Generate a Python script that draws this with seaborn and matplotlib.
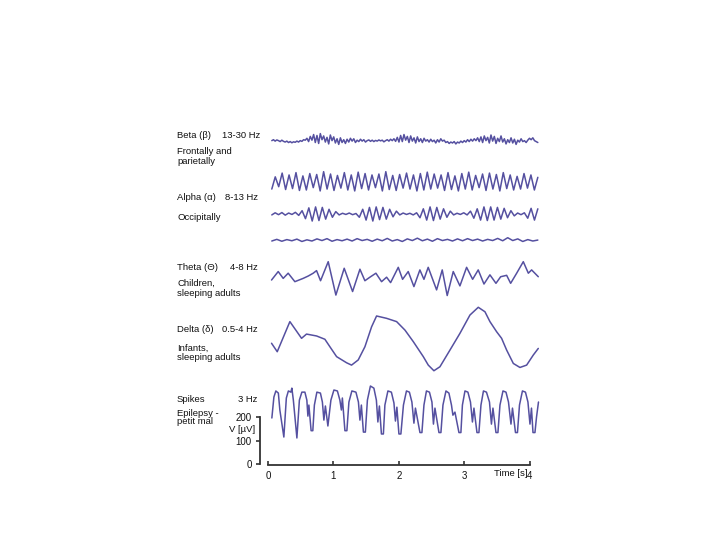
import numpy as np
import pandas as pd
import seaborn as sns
import matplotlib
matplotlib.use("Agg")
import matplotlib.pyplot as plt

# ---- data (time in s, amplitude in uV) ----
# dense traces: values on an even time grid from the first to the last sample
beta_v = [0, 4, -2, 3, 0, -4, 2, -3, -6, -2, -8, -4, -9, -5, -7, -2, -6, 0, -3, 4, 2,
          10, -4, 18, 2, 26, -8, 22, -12, 30, 4, 20, -6, 14, -14, 24, 0, 16, -10, 8, -16, 12, -8, 4, -12,
          6, -6, 10, -2, 8, -8, 2, -4, 6, -2, 4, -6, 0, 3, -3, 2, -4, 1, -2, 3, -1, 2, -5, 0, 4, -2, 6, 0, 8, -3,
          14, -6, 22, -4, 26, 2, 18, -8, 20, -2, 12, -10, 16, -4, 8, -8, 10, -2,
          4, -6, 6, -4, 2, -10, 4, -6, 8, -2, 2, -8, -4, -12, -6, -10, -4, -14, -6, -10, -2, -8, 0, -6, 4, -4, 6, -2, 8, 0,
          12, -4, 16, -8, 20, 0, 14, -10, 24, -2, 18, -12, 10, -4, 20, -6, 8, -14, 4, -8, 12, -10, 6, -16, 2, -6, 8,
          -4, 0, -8, 2, 10, 4, 12, 0, -4, -8]

alpha1_v = [-30, 22, -20, 38, -32, 30, -28, 40, -36, 26,
            -34, 36, -24, 32, -38, 44, -30, 34, -36, 28,
            -26, 40, -34, 30, -38, 42, -28, 36, -34, 30,
            -24, 34, -38, 44, -32, 28, -36, 32, -26, 38,
            -30, 30, -38, 36, -34, 42, -30, 34, -26, 30,
            -36, 40, -32, 26, -38, 36, -30, 42, -34, 28,
            -24, 34, -36, 38, -30, 32, -38, 40, -28, 30,
            -34, 24, -30, 36, -26, 30, -34, 20]

alpha2_v = [-4, 5, -3, 6, -5, 4, -2, 7, -6,
            14, -20, 26, -30, 30, -28, 28, -22, 20, -14, 10,
            -4, 3, -2, 4, -3, 2,
            -14, 20, -26, 28, -30, 30, -24, 28, -22, 20, -12, 12,
            -4, 4, -2, 3, -4, 5,
            -16, 22, -26, 30, -28, 28, -22, 22, -14, 12,
            -4, 3, -2, 5, -4,
            12, -18, 22, -26, 30, -28, 30, -26, 28, -22, 24, -16, 14, -8,
            4, -3, 5,
            -18, 24, -26, 22]

alpha3_v = [-4, 3, -5, 2, -3, 4, -6, 1, -4, 5, -2, 6, -5, 2, -3, 4, -4, 6, -2, 3,
            -5, 4, -3, 7, -4, 2, -6, 5, -2, 8, -3, 4, -5, 6, -2, 3, -4, 5, -3, 6,
            -2, 4, -4, 3, -2, 7, -3, 10, -2, 5, -6, 2, -4, 0]

t_first = 0.06
t_last = 4.12

# sparse traces: (time, value) pairs
theta_t = [0.056, 0.158, 0.234, 0.31, 0.412, 0.539, 0.616, 0.692, 0.743, 0.804,
           0.921, 1.038, 1.165, 1.293, 1.405, 1.481, 1.557, 1.649, 1.735, 1.812,
           1.873, 1.99, 2.056, 2.142, 2.229, 2.32, 2.382, 2.447, 2.575, 2.661,
           2.737, 2.829, 2.931, 3.033, 3.125, 3.21, 3.298, 3.389, 3.481, 3.553,
           3.644, 3.705, 3.797, 3.898, 3.975, 4.025, 4.127]
theta_v = [-13, 23, -6, 16, -20, -6, 4, 16, 27, -16,
           65, -77, 37, -62, 33, -16, -1, 16, -20, -1,
           -24, 41, -10, 23, -41, 30, -10, 41, -55, 30,
           -79, 23, -38, 41, -10, 30, -30, 9, -27, 1,
           7, -27, 16, 65, 16, 30, 1]

delta_t = [0.056, 0.143, 0.336, 0.514, 0.590, 0.743, 0.870, 0.947, 1.049, 1.201,
           1.277, 1.379, 1.481, 1.583, 1.659, 1.812, 1.965, 2.092, 2.219, 2.372,
           2.448, 2.534, 2.626, 2.779, 2.931, 3.084, 3.211, 3.313, 3.389, 3.491,
           3.567, 3.644, 3.746, 3.847, 3.949, 4.051, 4.127]
delta_v = [-18, -54, 74, 3, 21, 13, -1, -33, -75, -101,
           -111, -89, -33, 52, 98, 88, 74, 38, -11, -75,
           -111, -135, -118, -47, 24, 102, 135, 116, 74, 31,
           3, -47, -104, -121, -111, -68, -40]

spike_t = [0.061, 0.092, 0.122, 0.160, 0.183, 0.244,
           0.282, 0.313, 0.351, 0.366, 0.389, 0.443,
           0.481, 0.519, 0.565, 0.595, 0.611, 0.626, 0.660, 0.686,
           0.710, 0.748, 0.802, 0.832, 0.855, 0.878, 0.916,
           0.962, 1.008, 1.061, 1.099, 1.122, 1.137, 1.176, 1.206,
           1.237, 1.282, 1.344, 1.382, 1.405, 1.427, 1.458, 1.488,
           1.519, 1.565, 1.618, 1.656, 1.679, 1.702, 1.733, 1.763,
           1.786, 1.832, 1.885, 1.924, 1.947, 1.969, 2.000, 2.030,
           2.069, 2.115, 2.160, 2.198, 2.229, 2.252, 2.321, 2.351,
           2.382, 2.420, 2.466, 2.504, 2.527, 2.550, 2.611, 2.641,
           2.672, 2.718, 2.763, 2.802, 2.824, 2.855, 2.916, 2.946,
           2.969, 3.008, 3.053, 3.092, 3.122, 3.145, 3.191, 3.221,
           3.252, 3.290, 3.336, 3.382, 3.412, 3.435, 3.481, 3.511,
           3.542, 3.588, 3.634, 3.672, 3.710, 3.733, 3.779, 3.809,
           3.840, 3.885, 3.931, 3.969, 4.000, 4.023, 4.046, 4.076,
           4.100, 4.130]
spike_v = [196, 285, 311, 302, 230, 115,
           281, 311, 306, 323, 272, 111,
           272, 306, 306, 272, 204, 251, 142, 142,
           251, 306, 302, 264, 187, 247, 162,
           272, 315, 311, 272, 230, 281, 142, 142,
           264, 311, 306, 264, 187, 251, 136, 136,
           272, 332, 323, 272, 179, 247, 128, 128,
           251, 311, 306, 260, 183, 242, 128, 128,
           251, 311, 306, 264, 174, 238, 134, 134,
           251, 311, 306, 264, 170, 238, 134, 134,
           251, 311, 302, 251, 208, 221, 134, 134,
           251, 311, 306, 264, 179, 238, 134, 134,
           251, 311, 306, 264, 170, 238, 134, 134,
           251, 311, 306, 264, 170, 238, 134, 134,
           251, 311, 306, 264, 170, 238, 134, 134,
           200, 264]

# vertical stacking of the traces (uV above the time axis)
offsets = {"beta": 1376, "alpha1": 1200, "alpha2": 1064, "alpha3": 953,
           "theta": 796, "delta": 532, "spikes": 0}

frames = []
for name, vals in [("beta", beta_v), ("alpha1", alpha1_v), ("alpha2", alpha2_v), ("alpha3", alpha3_v)]:
    tt = np.linspace(t_first, t_last, len(vals))
    frames.append(pd.DataFrame({"t": tt, "V": vals, "trace": name}))
for name, tt, vals in [("theta", theta_t, theta_v), ("delta", delta_t, delta_v), ("spikes", spike_t, spike_v)]:
    frames.append(pd.DataFrame({"t": tt, "V": vals, "trace": name}))
df = pd.concat(frames, ignore_index=True)
df["y"] = df["V"] + df["trace"].map(offsets)

sns.set_theme(style="white")
plt.rcParams["font.family"] = ["Liberation Sans", "DejaVu Sans"]

W, H = 720, 540
fig = plt.figure(figsize=(7.2, 5.4), dpi=100)
# axes placed so that t=-0.12 -> x=260 px, t=4.15 -> x=540 px; V=-4 -> y=465 px
ax = fig.add_axes([260 / W, 75 / H, 279.8 / W, 334.7 / H])

sns.lineplot(data=df, x="t", y="y", units="trace", estimator=None, sort=False,
             color="#5550a0", linewidth=1.1, ax=ax)

ax.set_xlim(-0.12, 4.15)
ax.set_ylim(-4, 1420)
ax.set_xlabel("")
ax.set_ylabel("")
for s in ["top", "right"]:
    ax.spines[s].set_visible(False)
for s in ["left", "bottom"]:
    ax.spines[s].set_color("#333333")
    ax.spines[s].set_linewidth(1.3)
ax.spines["left"].set_bounds(0, 200)
ax.spines["bottom"].set_bounds(0, 4)
ax.set_xticks([0, 1, 2, 3, 4])
ax.set_yticks([0, 100, 200])
ax.tick_params(axis="x", bottom=True, direction="in", length=3, width=1.2, color="#333333",
               labelsize=7, pad=4, labelcolor="#111111")
ax.tick_params(axis="y", left=True, direction="out", length=3, width=1.2, color="#333333",
               labelsize=7, pad=3, labelcolor="#111111")
ax.patch.set_alpha(0)

def ftext(x, y, s, ha="left"):
    fig.text(x / W, 1 - y / H, s, ha=ha, va="center", fontsize=6.8, color="#111111")

ftext(177, 136, "Beta (β)")
ftext(260, 136, "13-30 Hz", ha="right")
ftext(177, 152, "Frontally and")
ftext(177, 162, "parietally")
ftext(177, 198, "Alpha (α)")
ftext(258, 198, "8-13 Hz", ha="right")
ftext(177, 217, "Occipitally")
ftext(177, 267, "Theta (Θ)")
ftext(258, 267, "4-8 Hz", ha="right")
ftext(177, 283, "Children,")
ftext(177, 293, "sleeping adults")
ftext(177, 330, "Delta (δ)")
ftext(258, 330, "0.5-4 Hz", ha="right")
ftext(177, 348, "Infants,")
ftext(177, 357, "sleeping adults")
ftext(177, 400, "Spikes")
ftext(257, 400, "3 Hz", ha="right")
ftext(177, 413, "Epilepsy -")
ftext(177, 422, "petit mal")
ftext(255, 430, "V [µV]", ha="right")
ftext(527, 473, "Time [s]", ha="right")

fig.savefig("out.png", dpi=100)
